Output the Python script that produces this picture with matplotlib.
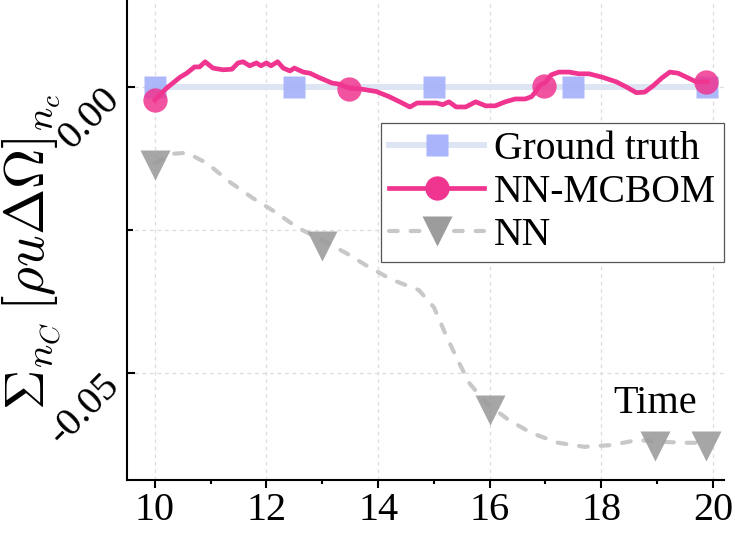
import matplotlib
matplotlib.use('Agg')
import matplotlib.pyplot as plt
from matplotlib.lines import Line2D
from matplotlib.ticker import MultipleLocator
from matplotlib.transforms import ScaledTranslation

plt.rcParams['font.family'] = ['Liberation Serif', 'DejaVu Serif']
plt.rcParams['mathtext.fontset'] = 'cm'

# Ground truth (flat zero) and its square markers
gt_t = [10.0, 12.5, 15.0, 17.5, 19.9]
gt_v = [0.0, 0.0, 0.0, 0.0, 0.0]

# NN-MCBOM curve
mc_t = [10.0, 10.21, 10.45, 10.57, 10.71, 10.8, 10.9, 11.04, 11.22, 11.38, 11.49, 11.58,
        11.7, 11.82, 11.9, 12.0, 12.08, 12.2, 12.3, 12.42, 12.5, 12.66, 12.78, 12.93,
        13.05, 13.17, 13.3, 13.48, 13.72, 13.97, 14.2, 14.39, 14.57, 14.7, 14.87, 15.05,
        15.16, 15.27, 15.4, 15.57, 15.75, 15.93, 16.1, 16.28, 16.46, 16.64, 16.75, 16.82,
        16.9, 17.0, 17.1, 17.24, 17.42, 17.6, 17.78, 18.02, 18.27, 18.45, 18.63, 18.78,
        18.93, 19.09, 19.23, 19.38, 19.53, 19.7, 19.9]
mc_v = [-0.0023, -0.0002, 0.0017, 0.0024, 0.0035, 0.0035, 0.0044, 0.0033, 0.0030, 0.0031, 0.0042, 0.0044,
        0.0037, 0.0042, 0.0037, 0.0042, 0.0037, 0.0044, 0.0033, 0.0028, 0.0033, 0.0026, 0.0024, 0.0017,
        0.0012, 0.0007, 0.0005, -0.0002, -0.0004, -0.0008, -0.0017, -0.0026, -0.0035, -0.0028, -0.0028, -0.0028,
        -0.0031, -0.0026, -0.0035, -0.0035, -0.0026, -0.0033, -0.0033, -0.0026, -0.0021, -0.0021, -0.0017, -0.0009,
        0.0003, 0.0008, 0.0021, 0.0026, 0.0026, 0.0023, 0.0023, 0.0017, 0.0009, 0.0, -0.0010, -0.0009,
        0.0002, 0.0016, 0.0026, 0.0024, 0.0017, 0.0009, 0.0009]
mc_mark_t = [10.0, 13.48, 16.98, 19.87]
mc_mark_v = [-0.0023, -0.0003, 0.0002, 0.0009]

# NN curve
nn_t = [10.0, 10.3, 10.57, 10.93, 11.34, 11.75, 12.18, 12.54, 12.98, 13.42, 13.84, 14.25,
        14.73, 15.0, 15.2, 15.4, 15.63, 15.93, 16.34, 16.75, 17.23, 17.7, 18.18, 18.66,
        18.96, 19.55, 19.9]
nn_v = [-0.0133, -0.0117, -0.0115, -0.0133, -0.0166, -0.0194, -0.0220, -0.0245, -0.0267, -0.0290, -0.0315, -0.0337,
        -0.0355, -0.0385, -0.0430, -0.0472, -0.0517, -0.0552, -0.0582, -0.0605, -0.0622, -0.0629, -0.0626, -0.0617,
        -0.0620, -0.0622, -0.0622]
nn_mark_t = [10.0, 12.99, 16.0, 18.97, 19.87]
nn_mark_v = [-0.0136, -0.0278, -0.0565, -0.0628, -0.0628]

gt_line = '#dde4f4'
gt_mark = '#a9b4fa'
pink = '#f03590'
grey_line = '#c8c8c8'
grey_mark = '#9c9c9c'
dash = (0, (2.1, 3.1))

fig = plt.figure(figsize=(7.35, 5.39), dpi=100)
ax = fig.add_axes([0.1728, 0.1095, 0.8122, 0.8905])

ax.plot(gt_t, gt_v, color=gt_line, lw=4.3, zorder=2)
ax.plot(gt_t, gt_v, ls='none', marker='s', ms=16.5, mfc=gt_mark, mec='none', alpha=0.95, zorder=3)

ax.plot(mc_t, mc_v, color=pink, lw=3.4, zorder=4)
ax.plot(mc_mark_t, mc_mark_v, ls='none', marker='o', ms=17.5, mfc=pink, mec='none', alpha=0.85, zorder=5)

ax.plot(nn_t, nn_v, color=grey_line, lw=3, ls=dash, dash_capstyle='round', zorder=2)
ax.plot(nn_mark_t, nn_mark_v, ls='none', marker='v', ms=21, mfc=grey_mark, mec='none', alpha=0.9, zorder=3)

ax.set_xlim(9.5, 20.2)
ax.set_ylim(-0.0687, 0.0152)
ax.xaxis.set_major_locator(MultipleLocator(2))
ax.xaxis.set_minor_locator(MultipleLocator(1))
ax.yaxis.set_major_locator(MultipleLocator(0.05))
ax.yaxis.set_minor_locator(MultipleLocator(0.025))
ax.yaxis.set_major_formatter(plt.FuncFormatter(lambda v, p: '%.2f' % v if abs(v) > 1e-9 else '0.00'))

ax.grid(True, which='major', axis='x', color='#dddddd', lw=0.9, ls=(0, (3, 3)))
ax.grid(True, which='both', axis='y', color='#dddddd', lw=0.9, ls=(0, (3, 3)))
ax.set_axisbelow(True)

for s in ['top', 'right']:
    ax.spines[s].set_visible(False)
for s in ['left', 'bottom']:
    ax.spines[s].set_linewidth(1.5)

ax.tick_params(axis='x', which='major', direction='out', length=6, width=1.5, labelsize=29, pad=3,
               labelfontfamily='Liberation Serif')
ax.tick_params(axis='x', which='minor', direction='out', length=3, width=1.5)
ax.tick_params(axis='y', which='major', direction='in', length=6, width=1.5, labelsize=29, pad=0,
               labelfontfamily='Liberation Serif')
ax.tick_params(axis='y', which='minor', direction='in', length=4, width=1.5)
shift = ScaledTranslation(0, -5.5 / 72, fig.dpi_scale_trans)
for lab in ax.get_yticklabels():
    lab.set_rotation(45)
    lab.set_transform(lab.get_transform() + shift)

ax.set_ylabel(r'$\Sigma_{n_C}\,[\rho u\Delta\Omega]_{n_c}$', fontsize=40)
ax.yaxis.set_label_coords(-0.108, 0.475)

ax.text(18.96, -0.057, 'Time', fontsize=29, ha='center', va='baseline')

handles = [
    Line2D([], [], color=gt_line, lw=4.3, marker='s', ms=16.5, mfc=gt_mark, mec='none'),
    Line2D([], [], color=pink, lw=3.4, marker='o', ms=17.5, mfc=pink, mec='none'),
    Line2D([], [], color=grey_line, lw=3, ls=dash, dash_capstyle='round',
           marker='v', ms=21, mfc=grey_mark, mec='none'),
]
leg = ax.legend(handles, ['Ground truth', 'NN-MCBOM', 'NN'], loc='upper right',
                bbox_to_anchor=(1.0, 0.744), borderaxespad=0, fontsize=28.5,
                fancybox=False, framealpha=1, edgecolor='#555555',
                handlelength=2.4, handletextpad=0.25, labelspacing=0.15, borderpad=0.2)
leg.get_frame().set_linewidth(0.9)

fig.savefig('out.png', dpi=100)
